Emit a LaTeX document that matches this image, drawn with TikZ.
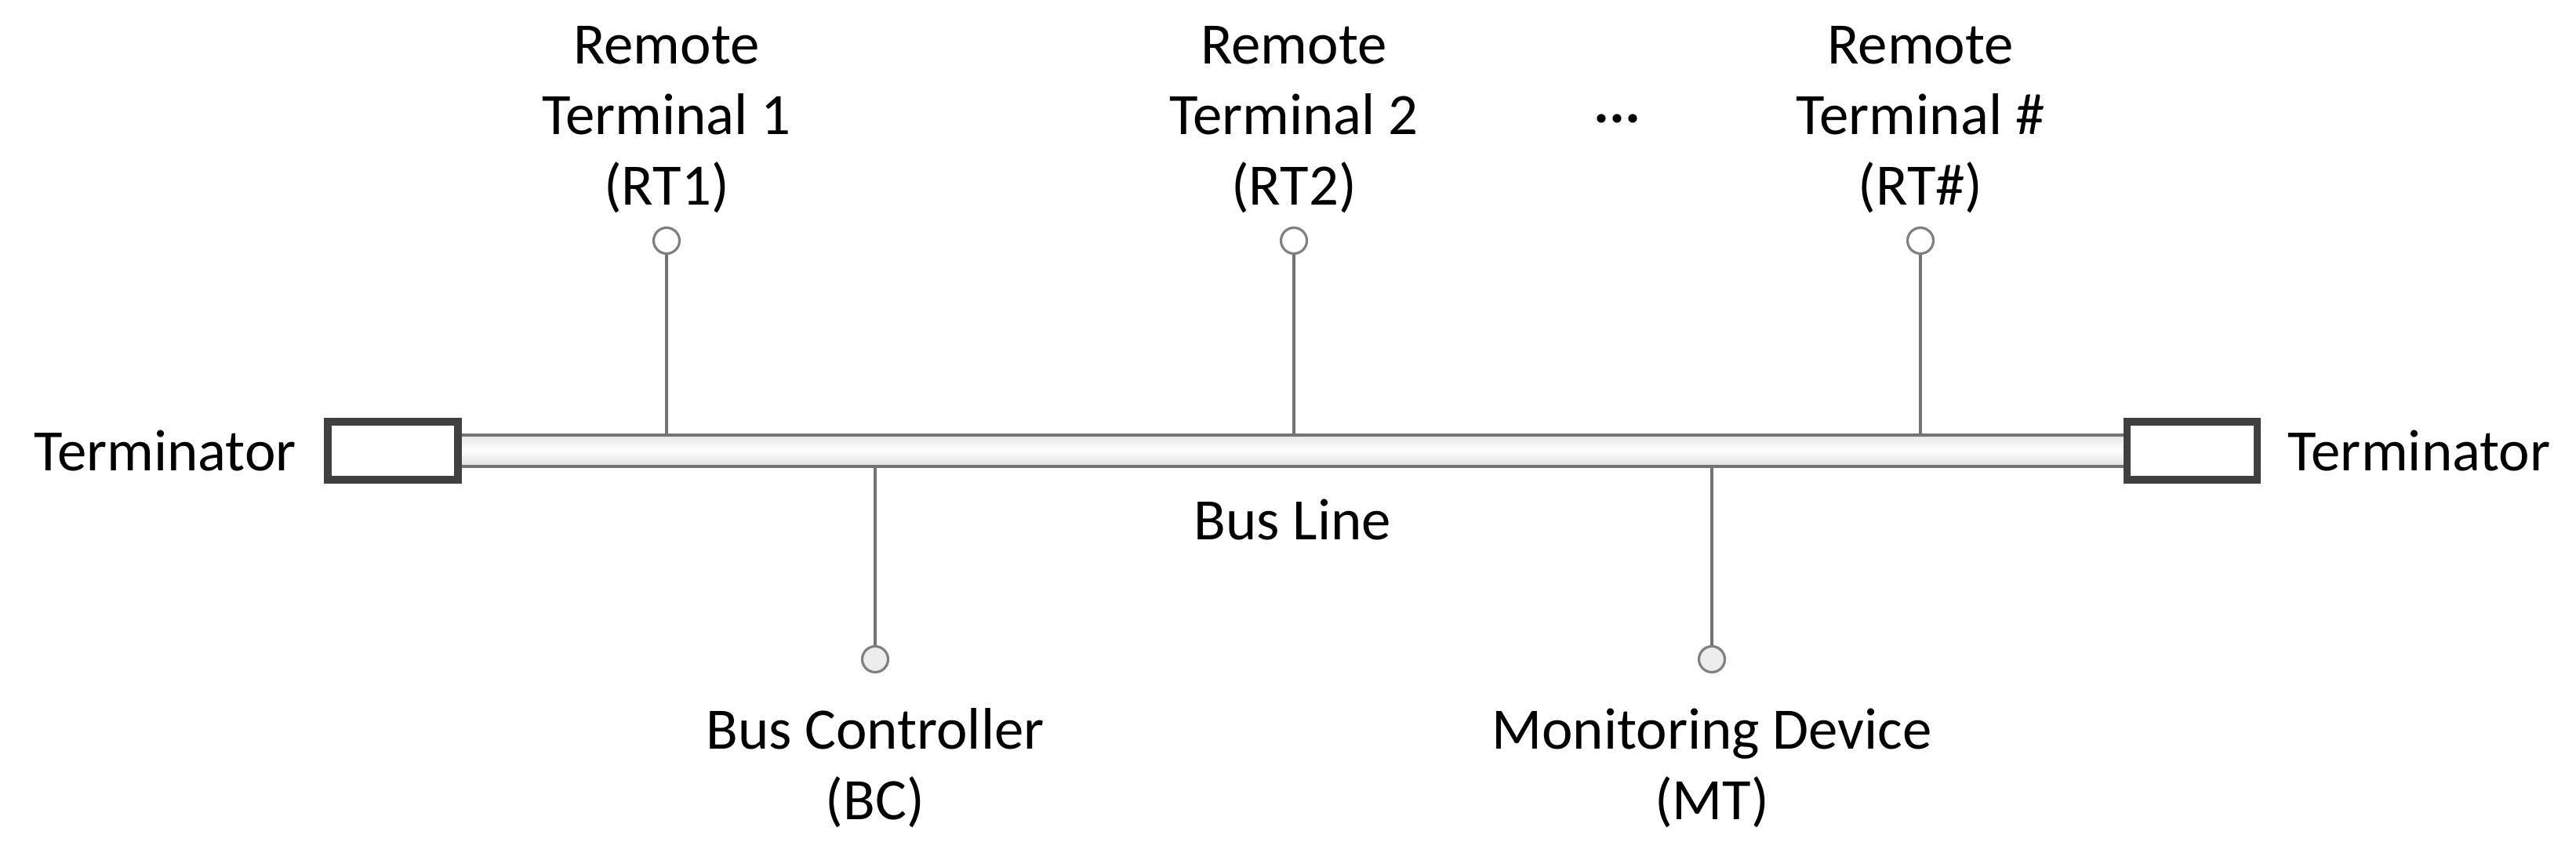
\documentclass[tikz,border=0pt]{standalone}
\usepackage{fontspec}
\setmainfont{Carlito}
\usetikzlibrary{positioning}

\begin{document}
\begin{tikzpicture}[
        every node/.style={font=\fontsize{21.3}{25.6}\selectfont},
        terminator/.style={draw=black!75, line width=2.6pt, fill=white, minimum width=1.66cm, minimum height=0.74cm, inner sep=0pt},
        busline/.style={draw=black!55, line width=1pt, top color=black!10, bottom color=black!12, middle color=white, minimum width=21.29cm, minimum height=0.4cm, inner sep=0pt},
        tap/.style={circle, draw=black!50, line width=0.9pt, minimum size=0.33cm, inner sep=0pt},
        stub/.style={draw=black!55, line width=1.1pt},
        devtext/.style={align=center, inner sep=0pt}
    ]
        \useasboundingbox (0,0) rectangle (32.85,11.05);

        \node[busline] (bus) at (16.485,5.30) {};
        \node[terminator] (termL) at (5.01,5.30) {};
        \node[terminator] (termR) at (27.955,5.30) {};
        \node[devtext, left=0.35cm of termL] (termLtext) {Terminator};
        \node[devtext, right=0.34cm of termR] (termRtext) {Terminator};
        \node[devtext, below=0.40cm of bus] (bustext) {Bus Line};

        \node[tap, fill=white] (rt1) at (8.50,7.98) {};
        \node[tap, fill=white] (rt2) at (16.50,7.98) {};
        \node[tap, fill=white] (rtn) at (24.49,7.98) {};
        \node[tap, fill=black!7] (bc) at (11.16,2.64) {};
        \node[tap, fill=black!7] (mt) at (21.83,2.64) {};

        \draw[stub] (rt1) -- (rt1 |- bus.north);
        \draw[stub] (rt2) -- (rt2 |- bus.north);
        \draw[stub] (rtn) -- (rtn |- bus.north);
        \draw[stub] (bc) -- (bc |- bus.south);
        \draw[stub] (mt) -- (mt |- bus.south);

        \node[devtext, above=0.16cm of rt1] (rt1text) {Remote\\Terminal 1\\(RT1)};
        \node[devtext, above=0.16cm of rt2] (rt2text) {Remote\\Terminal 2\\(RT2)};
        \node[devtext, above=0.16cm of rtn] (rtntext) {Remote\\Terminal \#\\(RT\#)};
        \node[font=\fontsize{21.3}{25.6}\selectfont\bfseries, anchor=base, inner sep=0pt] (dots) at (20.62,9.48) {...};

        \node[devtext, below=0.44cm of bc] (bctext) {Bus Controller\\(BC)};
        \node[devtext, below=0.44cm of mt] (mttext) {Monitoring Device\\(MT)};
    \end{tikzpicture}
\end{document}
